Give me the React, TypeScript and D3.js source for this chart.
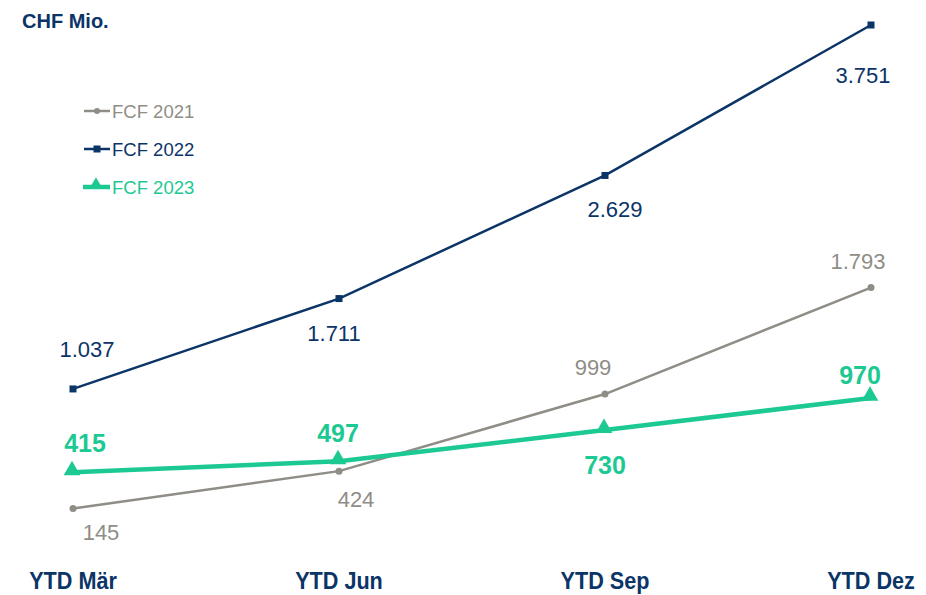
import React from "react";
import * as d3 from "d3";

const categories = ["YTD Mär", "YTD Jun", "YTD Sep", "YTD Dez"];
const fcf2021 = [145, 424, 999, 1793];
const fcf2022 = [1037, 1711, 2629, 3751];
const fcf2023 = [415, 497, 730, 970];
const valueLabels2021 = ["145", "424", "999", "1.793"];
const valueLabels2022 = ["1.037", "1.711", "2.629", "3.751"];
const valueLabels2023 = ["415", "497", "730", "970"];

// label offsets (dx, dy relative to point, baseline)
const off2021 = [[28, 31], [17, 36], [-12, -19], [-13, -19]];
const off2022 = [[14, -32], [-5, 42], [10, 42], [-8, 58]];
const off2023 = [[12, -20], [-1, -19], [0, 44], [-11, -14]];

const W = 926;
const H = 595;
const NAVY = "#0b3467";
const GREY = "#8f8d86";
const GREEN = "#1dc993";
const FONT = "'Liberation Sans', Arial, sans-serif";

export default function App() {
  const x = d3.scalePoint<string>().domain(categories).range([73, 871]);
  const y = d3.scaleLinear().domain([0, 3751]).range([528, 25]);
  const line = d3
    .line<number>()
    .x((_, i) => x(categories[i]) as number)
    .y((d) => y(d));
  const tri = d3.symbol().type(d3.symbolTriangle).size(120)() as string;

  return (
    <svg
      width={W}
      height={H}
      style={{ position: "absolute", left: 0, top: 0, background: "#fff" }}
      fontFamily={FONT}
    >
      <text x={22} y={28} fontSize={20} fontWeight="bold" fill={NAVY}>
        CHF Mio.
      </text>

      {/* legend */}
      <g>
        <line x1={84} x2={110} y1={111} y2={111} stroke={GREY} strokeWidth={2.5} />
        <circle cx={97} cy={111} r={3} fill={GREY} />
        <text x={112} y={118} fontSize={18.5} fill={GREY}>FCF 2021</text>
        <line x1={84} x2={110} y1={149} y2={149} stroke={NAVY} strokeWidth={2.5} />
        <rect x={93.5} y={145.5} width={7} height={7} fill={NAVY} />
        <text x={112} y={156} fontSize={18.5} fill={NAVY}>FCF 2022</text>
        <line x1={83} x2={110} y1={187} y2={187} stroke={GREEN} strokeWidth={4.5} />
        <path d={tri} transform="translate(96,185) scale(0.8)" fill={GREEN} />
        <text x={112} y={194} fontSize={18.5} fill={GREEN}>FCF 2023</text>
      </g>

      {/* FCF 2022 */}
      <path d={line(fcf2022) as string} fill="none" stroke={NAVY} strokeWidth={2.5} />
      {fcf2022.map((v, i) => (
        <rect key={"s" + i} x={(x(categories[i]) as number) - 3.5} y={y(v) - 3.5} width={7} height={7} fill={NAVY} />
      ))}
      {fcf2022.map((v, i) => (
        <text key={"t22" + i} x={(x(categories[i]) as number) + off2022[i][0]} y={y(v) + off2022[i][1]} fontSize={22} fill={NAVY} textAnchor="middle">
          {valueLabels2022[i]}
        </text>
      ))}

      {/* FCF 2021 */}
      <path d={line(fcf2021) as string} fill="none" stroke={GREY} strokeWidth={2.5} />
      {fcf2021.map((v, i) => (
        <circle key={"c" + i} cx={x(categories[i]) as number} cy={y(v)} r={3.5} fill={GREY} />
      ))}
      {fcf2021.map((v, i) => (
        <text key={"t21" + i} x={(x(categories[i]) as number) + off2021[i][0]} y={y(v) + off2021[i][1]} fontSize={22} fill={GREY} textAnchor="middle">
          {valueLabels2021[i]}
        </text>
      ))}

      {/* FCF 2023 */}
      <path d={line(fcf2023) as string} fill="none" stroke={GREEN} strokeWidth={4.5} />
      {fcf2023.map((v, i) => (
        <path key={"tr" + i} d={tri} transform={`translate(${(x(categories[i]) as number) - 1},${y(v) - 2})`} fill={GREEN} />
      ))}
      {fcf2023.map((v, i) => (
        <text key={"t23" + i} x={(x(categories[i]) as number) + off2023[i][0]} y={y(v) + off2023[i][1]} fontSize={25} fontWeight="bold" fill={GREEN} textAnchor="middle">
          {valueLabels2023[i]}
        </text>
      ))}

      {/* category axis labels */}
      {categories.map((c) => (
        <g key={c} transform={`translate(${x(c) as number},589) scale(0.94,1)`}>
          <text x={0} y={0} fontSize={23} fontWeight="bold" fill={NAVY} textAnchor="middle">
            {c}
          </text>
        </g>
      ))}
    </svg>
  );
}
